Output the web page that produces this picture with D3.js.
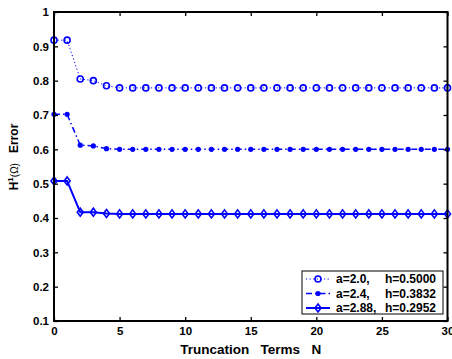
<!DOCTYPE html>
<html>
<head>
<meta charset="utf-8">
<script src="https://cdn.jsdelivr.net/npm/d3@7"></script>
<style>
  body { margin: 0; background: #fff; }
  svg { font-family: "Liberation Sans", Arial, sans-serif; }
  text { white-space: pre; }
</style>
</head>
<body>
<svg id="chart" width="452" height="359"></svg>
<script>
// truncation terms N = 0..30
let terms = d3.range(0, 31)
let err1 = [0.918, 0.918, 0.805, 0.800, 0.785, 0.779, 0.779, 0.779, 0.779, 0.779, 0.779,
            0.779, 0.779, 0.779, 0.779, 0.779, 0.779, 0.779, 0.779, 0.779, 0.779,
            0.779, 0.779, 0.779, 0.779, 0.779, 0.779, 0.779, 0.779, 0.779, 0.779]
let err2 = [0.702, 0.702, 0.612, 0.610, 0.602, 0.600, 0.600, 0.600, 0.600, 0.600, 0.600,
            0.600, 0.600, 0.600, 0.600, 0.600, 0.600, 0.600, 0.600, 0.600, 0.600,
            0.600, 0.600, 0.600, 0.600, 0.600, 0.600, 0.600, 0.600, 0.600, 0.600]
let err3 = [0.508, 0.508, 0.417, 0.417, 0.413, 0.412, 0.412, 0.412, 0.412, 0.412, 0.412,
            0.412, 0.412, 0.412, 0.412, 0.412, 0.412, 0.412, 0.412, 0.412, 0.412,
            0.412, 0.412, 0.412, 0.412, 0.412, 0.412, 0.412, 0.412, 0.412, 0.412]
let legendA = ["a=2.0,", "a=2.4,", "a=2.88,"]
let legendH = ["h=0.5000", "h=0.3832", "h=0.2952"]
let xTicks = [0, 5, 10, 15, 20, 25, 30]
let yTicks = [0.1, 0.2, 0.3, 0.4, 0.5, 0.6, 0.7, 0.8, 0.9, 1]

let blue = "#0000ff"
let pLeft = 54, pRight = 447.5, pTop = 12, pBottom = 321

let svg = d3.select("#chart")

let xScale = d3.scaleLinear().domain([0, 30]).range([pLeft, pRight])
let yScale = d3.scaleLinear().domain([0.1, 1]).range([pBottom, pTop])

let series = [
    {vals: err1, dash: "1.2,2.4", width: 1, marker: "circle"},
    {vals: err2, dash: "6,3,1.5,3", width: 1.5, marker: "dot"},
    {vals: err3, dash: null, width: 2, marker: "diamond"}
]

let line = d3.line()
    .x((d, i) => xScale(terms[i]))
    .y(d => yScale(d))

function drawMarker(g, type, cx, cy) {
    if (type == "circle") {
        g.append("circle").attr("cx", cx).attr("cy", cy).attr("r", 3)
            .attr("fill", "none").attr("stroke", blue).attr("stroke-width", 1.6)
    } else if (type == "dot") {
        g.append("circle").attr("cx", cx).attr("cy", cy).attr("r", 2.6)
            .attr("fill", blue)
    } else {
        g.append("path")
            .attr("d", `M${cx},${cy - 4}L${cx + 3},${cy}L${cx},${cy + 4}L${cx - 3},${cy}Z`)
            .attr("fill", "none").attr("stroke", blue).attr("stroke-width", 1.6)
    }
}

// lines + markers
series.forEach(s => {
    svg.append("path")
        .datum(s.vals)
        .attr("d", line)
        .attr("fill", "none")
        .attr("stroke", blue)
        .attr("stroke-width", s.width)
        .attr("stroke-dasharray", s.dash)
    let g = svg.append("g")
    s.vals.forEach((v, i) => drawMarker(g, s.marker, xScale(terms[i]), yScale(v)))
})

// axes, ticks pointing inward on all four sides
let fmt = d => d == 1 ? "1" : d3.format(".1f")(d)

let xAxis = svg.append("g")
    .attr("transform", `translate(0,${pBottom})`)
    .call(d3.axisBottom(xScale).tickValues(xTicks).tickSize(-4).tickPadding(6).tickFormat(d3.format("d")))
let xAxisTop = svg.append("g")
    .attr("transform", `translate(0,${pTop})`)
    .call(d3.axisTop(xScale).tickValues(xTicks).tickSize(-4).tickFormat(""))
let yAxis = svg.append("g")
    .attr("transform", `translate(${pLeft},0)`)
    .call(d3.axisLeft(yScale).tickValues(yTicks).tickSize(-4).tickPadding(5).tickFormat(fmt))
let yAxisRight = svg.append("g")
    .attr("transform", `translate(${pRight},0)`)
    .call(d3.axisRight(yScale).tickValues(yTicks).tickSize(-4).tickFormat(""))

svg.selectAll(".domain").remove()
svg.selectAll(".tick line").attr("stroke", "#000").attr("stroke-width", 1.3)
svg.selectAll(".tick text")
    .attr("font-family", "Liberation Sans, Arial, sans-serif")
    .attr("font-size", 11.5)
    .attr("font-weight", "bold")
    .attr("fill", "#000")

svg.append("rect")
    .attr("x", pLeft).attr("y", pTop)
    .attr("width", pRight - pLeft).attr("height", pBottom - pTop)
    .attr("fill", "none").attr("stroke", "#000").attr("stroke-width", 2)

// axis labels
svg.append("text")
    .attr("x", (pLeft + pRight) / 2).attr("y", 354)
    .attr("text-anchor", "middle")
    .attr("font-size", 13.5).attr("font-weight", "bold")
    .text("Truncation   Terms   N")

let yLab = svg.append("text")
    .attr("transform", "translate(18,157) rotate(-90)")
    .attr("text-anchor", "middle")
    .attr("font-size", 12).attr("font-weight", "bold")
yLab.append("tspan").text("H")
yLab.append("tspan").attr("font-size", 8).attr("dy", -5).text("1")
yLab.append("tspan").attr("font-size", 10).attr("font-weight", "normal").attr("dy", 5).text("(Ω)")
yLab.append("tspan").text("   Error")

// legend
let legend = svg.append("g")
legend.append("rect")
    .attr("x", 302).attr("y", 271).attr("width", 141).attr("height", 43)
    .attr("fill", "#fff").attr("stroke", "#000").attr("stroke-width", 1)

let rowY = [279, 293.5, 308]
series.forEach((s, i) => {
    legend.append("line")
        .attr("x1", 306).attr("x2", 330).attr("y1", rowY[i]).attr("y2", rowY[i])
        .attr("stroke", blue).attr("stroke-width", s.width)
        .attr("stroke-dasharray", s.dash)
    drawMarker(legend, s.marker, 318, rowY[i])
    legend.append("text").attr("x", 336).attr("y", rowY[i] + 4.3)
        .attr("font-size", 12).attr("font-weight", "bold").text(legendA[i])
    legend.append("text").attr("x", 385).attr("y", rowY[i] + 4.3)
        .attr("font-size", 12).attr("font-weight", "bold").text(legendH[i])
})
</script>
</body>
</html>
